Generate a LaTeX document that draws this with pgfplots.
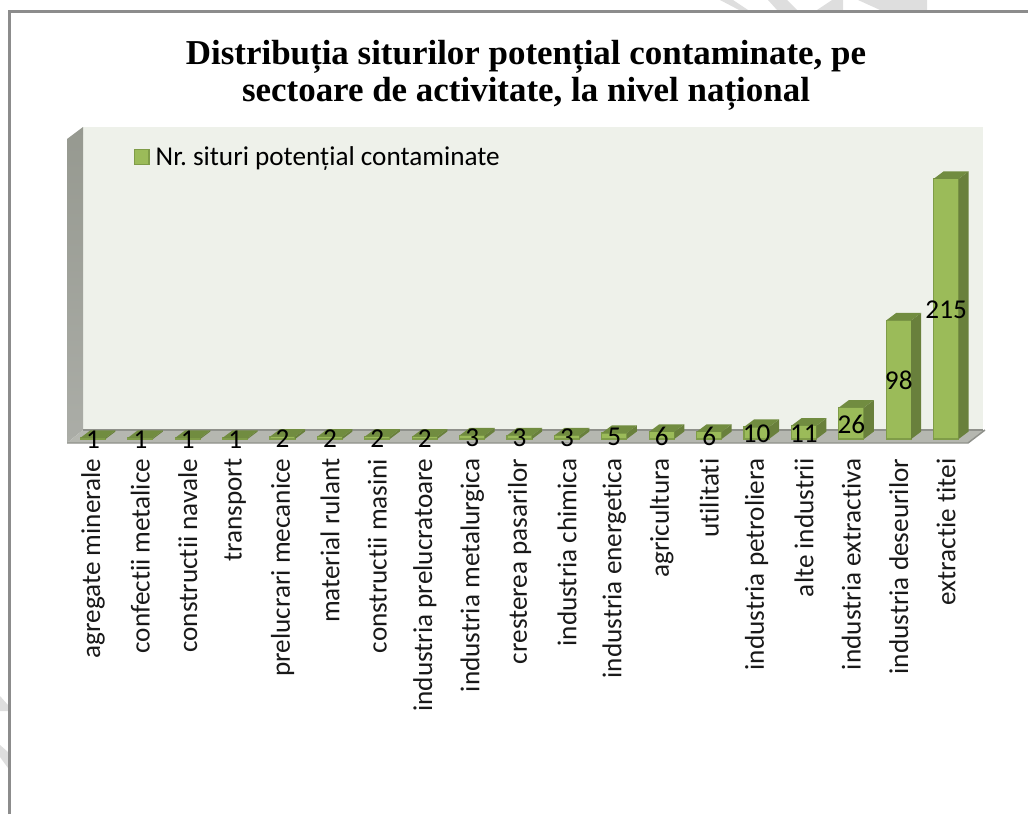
\documentclass[border=0pt]{standalone}
\usepackage{fontspec}
\usepackage{pgfplots}
\usepackage{pgfplotstable}
\pgfplotsset{compat=1.18}
\setmainfont{Carlito}[Ligatures=NoCommon]
\newfontfamily\titlefont{Liberation Serif}
\frenchspacing
\definecolor{wall}{HTML}{EEF1EA}
\definecolor{sidewall}{HTML}{969990}
\definecolor{sidewallb}{HTML}{ABADA7}
\definecolor{floorc}{HTML}{B5B7B0}
\definecolor{floore}{HTML}{8F918B}
\definecolor{barfront}{HTML}{9BBB59}
\definecolor{baredge}{HTML}{7F9C48}
\definecolor{barside}{HTML}{69803C}
\definecolor{bartop}{HTML}{718C40}
\definecolor{framec}{HTML}{8C8C8C}
\definecolor{wm}{HTML}{DEDEDE}
\pgfplotstableread{
i v
0 1
1 1
2 1
3 1
4 2
5 2
6 2
7 2
8 3
9 3
10 3
11 5
12 6
13 6
14 10
15 11
16 26
17 98
18 215
}\datatable
\pgfdeclareplotmark{bar3d}{%
  % origin at the top of the bar's front face, centre; 1 px = .75pt
  \pgfmathsetlengthmacro{\bh}{\barv*1.21*0.75pt}%
  \pgfsetfillcolor{barside}\pgfsetstrokecolor{barside}%
  \pgfpathmoveto{\pgfqpoint{9.375pt}{0pt}}%
  \pgfpathlineto{\pgfqpoint{16.875pt}{5.625pt}}%
  \pgfpathlineto{\pgfpoint{16.875pt}{5.625pt-\bh}}%
  \pgfpathlineto{\pgfpoint{9.375pt}{-\bh}}%
  \pgfpathclose\pgfusepath{fill}%
  \pgfsetfillcolor{bartop}\pgfsetstrokecolor{bartop}%
  \pgfpathmoveto{\pgfqpoint{-9.375pt}{0pt}}%
  \pgfpathlineto{\pgfqpoint{-1.875pt}{5.625pt}}%
  \pgfpathlineto{\pgfqpoint{16.875pt}{5.625pt}}%
  \pgfpathlineto{\pgfqpoint{9.375pt}{0pt}}%
  \pgfpathclose\pgfusepath{fill}%
}
\begin{document}
\begin{tikzpicture}
\begin{scope}[x=0.75pt,y=-0.75pt]
\path[use as bounding box] (0,0) rectangle (1028,814);
% scan-page watermark outside the frame
\fill[wm] (720,0)--(733,0)--(748,10)--(739,10)--cycle;
\fill[wm] (768,0)--(787,0)--(797,10)--(777,10)--cycle;
\fill[wm] (832,0)--(843,0)--(843,10)--(817,10)--cycle;
\fill[wm] (858,0)--(927,0)--(927,10)--(880,10)--cycle;
\fill[wm] (0,696)--(8,705)--(8,711)--(0,711)--cycle;
\fill[wm] (0,745)--(8,752)--(8,768)--(0,757)--cycle;
% frame
\draw[framec,line width=2.25pt] (9,814)--(9,11)--(1028,11);
% walls
\fill[wall] (83,127) rectangle (983,430);
\shade[top color=sidewall,bottom color=sidewallb] (67,139)--(83,127)--(83,430)--(67,443)--cycle;
\fill[floorc] (67,443)--(83,430)--(985,430)--(968,443)--cycle;
\draw[floore,line width=1.1pt] (67,443)--(968,443)--(985,430);
\draw[floore,line width=0.8pt] (83,430)--(983,430);
\end{scope}
\begin{axis}[
  at={(50.25pt,-332.25pt)}, anchor=south west,
  scale only axis, width=688.5pt, height=237pt,
  xmin=-0.5485, xmax=18.82, ymin=-3.3, ymax=257.85,
  clip=false,
  axis line style={draw=none},
  major tick length=0pt,
  ytick=\empty,
  xtick={0,...,18},
  xticklabels={agregate minerale,confectii metalice,constructii navale,transport,prelucrari mecanice,material rulant,constructii masini,industria prelucratoare,industria metalurgica,cresterea pasarilor,industria chimica,industria energetica,agricultura,utilitati,industria petroliera,alte industrii,industria extractiva,industria deseurilor,extractie titei},
  xticklabel style={rotate=90, anchor=east, font=\fontsize{20.4pt}{23pt}\selectfont, xshift=-8.25pt, text=black!90},
  title={Distribuția siturilor potențial contaminate, pe\\sectoare de activitate, la nivel național},
  title style={align=center, font=\titlefont\bfseries\fontsize{26.2pt}{27.75pt}\selectfont, anchor=south, at={(rel axis cs:0.5,1)}, yshift=3pt},
  legend style={at={(rel axis cs:0.0725,0.905)}, anchor=west, draw=none, fill=none, font=\fontsize{20.4pt}{23pt}\selectfont, inner sep=0pt, outer sep=0pt, legend cell align=left},
  legend image code/.code={\draw[baredge,fill=barfront,line width=1.3pt] (0pt,-5.6pt) rectangle (11.2pt,5.6pt); \path (13.5pt,0pt);},
  /pgf/number format/assume math mode=true,
]
\addplot[ybar, bar width=18.75pt, draw=baredge, fill=barfront, line width=0.9pt, forget plot] table[x=i,y=v] {\datatable};
\addplot[scatter, only marks, mark=bar3d, forget plot,
  visualization depends on={\thisrow{v} \as \barv},
  scatter/@pre marker code/.code={}, scatter/@post marker code/.code={}]
  table[x=i,y=v] {\datatable};
\addplot[ybar, bar width=18.75pt, draw=baredge, fill=barfront, line width=0.9pt] table[x=i,y=v] {\datatable};
\addlegendentry{Nr. situri potențial contaminate}
\addplot[only marks, mark=none, forget plot,
  point meta=\thisrow{v},
  nodes near coords={\pgfmathprintnumber{\pgfplotspointmeta}},
  every node near coord/.append style={anchor=center, yshift=-0.75pt, text=black, inner sep=0pt, font=\fontsize{20.4pt}{23pt}\selectfont}]
  table[x=i,y expr=\thisrow{v}/2] {\datatable};
\end{axis}
\end{tikzpicture}
\end{document}
